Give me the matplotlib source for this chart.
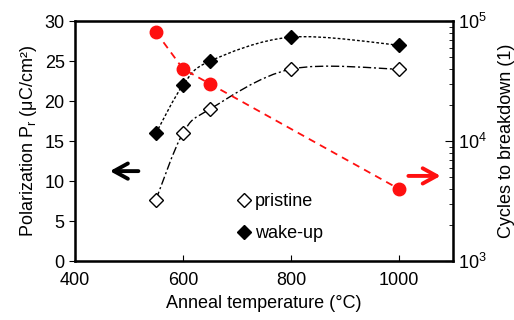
import numpy as np
import matplotlib.pyplot as plt
from matplotlib.path import Path
from matplotlib.patches import PathPatch

plt.rcParams['font.family'] = ['Liberation Sans', 'DejaVu Sans']
plt.rcParams['mathtext.fontset'] = 'custom'
plt.rcParams['mathtext.rm'] = 'Liberation Sans'
plt.rcParams['mathtext.it'] = 'Liberation Sans'

temps = [550, 600, 650, 800, 1000]
pristine = [7.7, 16, 19, 24, 24]
wakeup = [16, 22, 25, 28, 27]
cyc_temps = [550, 600, 650, 1000]
cycles = [81000, 40000, 30000, 4000]


def smooth_path(xs, ys):
    # excel-like smoothed line: cubic bezier through the points
    pts = np.column_stack([xs, ys]).astype(float)
    verts = [pts[0]]
    codes = [Path.MOVETO]
    n = len(pts)
    for i in range(n - 1):
        p0 = pts[i - 1] if i > 0 else pts[i]
        p1, p2 = pts[i], pts[i + 1]
        p3 = pts[i + 2] if i + 2 < n else pts[i + 1]
        c1 = p1 + (p2 - p0) / 6
        c2 = p2 - (p3 - p1) / 6
        verts += [c1, c2, p2]
        codes += [Path.CURVE4] * 3
    return Path(verts, codes)


fig = plt.figure(figsize=(5.14, 3.2), dpi=100)
ax = fig.add_axes([0.146, 0.184, 0.735, 0.75])

ax.add_patch(PathPatch(smooth_path(temps, wakeup), fill=False, color='black',
                       lw=1.0, linestyle=(0, (2, 1.5))))
ax.add_patch(PathPatch(smooth_path(temps, pristine), fill=False, color='black',
                       lw=1.0, linestyle=(0, (6, 2, 1.5, 2))))
ax.plot(temps, pristine, 'D', mfc='white', mec='black', mew=1.0, ms=7, label='pristine', zorder=4)
ax.plot(temps, wakeup, 'D', mfc='black', mec='black', ms=7, label='wake-up', zorder=4)

ax.set_xlim(400, 1100)
ax.set_ylim(0, 30)
ax.set_xticks([400, 600, 800, 1000])
ax.set_yticks(range(0, 31, 5))
ax.tick_params(axis='x', direction='in', length=4, labelsize=13, pad=8)
ax.tick_params(axis='y', direction='out', length=4, labelsize=13)
ax.set_xlabel('Anneal temperature (°C)', fontsize=13)
ax.set_ylabel(r'Polarization P$_{\rm r}$ (μC/cm²)', fontsize=13)
for s in ax.spines.values():
    s.set_linewidth(1.8)

leg = ax.legend(loc='lower left', bbox_to_anchor=(0.39, 0.01), frameon=False, fontsize=13,
                handlelength=0.6, handletextpad=0.3, labelspacing=0.85)

ax2 = ax.twinx()
ax2.set_yscale('log')
ax2.set_ylim(1e3, 1e5)
ax2.plot(cyc_temps, cycles, 'o--', color='#ff1010', ms=9, lw=1.3, dashes=(4, 3))
ax2.tick_params(axis='y', which='major', direction='in', length=6, labelsize=13)
ax2.tick_params(axis='y', which='minor', direction='in', length=3)
ax2.set_ylabel('Cycles to breakdown (1)', fontsize=13, labelpad=8)

ax.annotate('', xy=(0.085, 0.375), xytext=(0.175, 0.375), xycoords='axes fraction',
            arrowprops=dict(arrowstyle='->,head_length=1.0,head_width=0.55', color='black', lw=2.8))
ax.annotate('', xy=(0.975, 0.355), xytext=(0.875, 0.355), xycoords='axes fraction',
            arrowprops=dict(arrowstyle='->,head_length=1.0,head_width=0.55', color='#ff1010', lw=2.8))

fig.savefig('out.png', dpi=100)
